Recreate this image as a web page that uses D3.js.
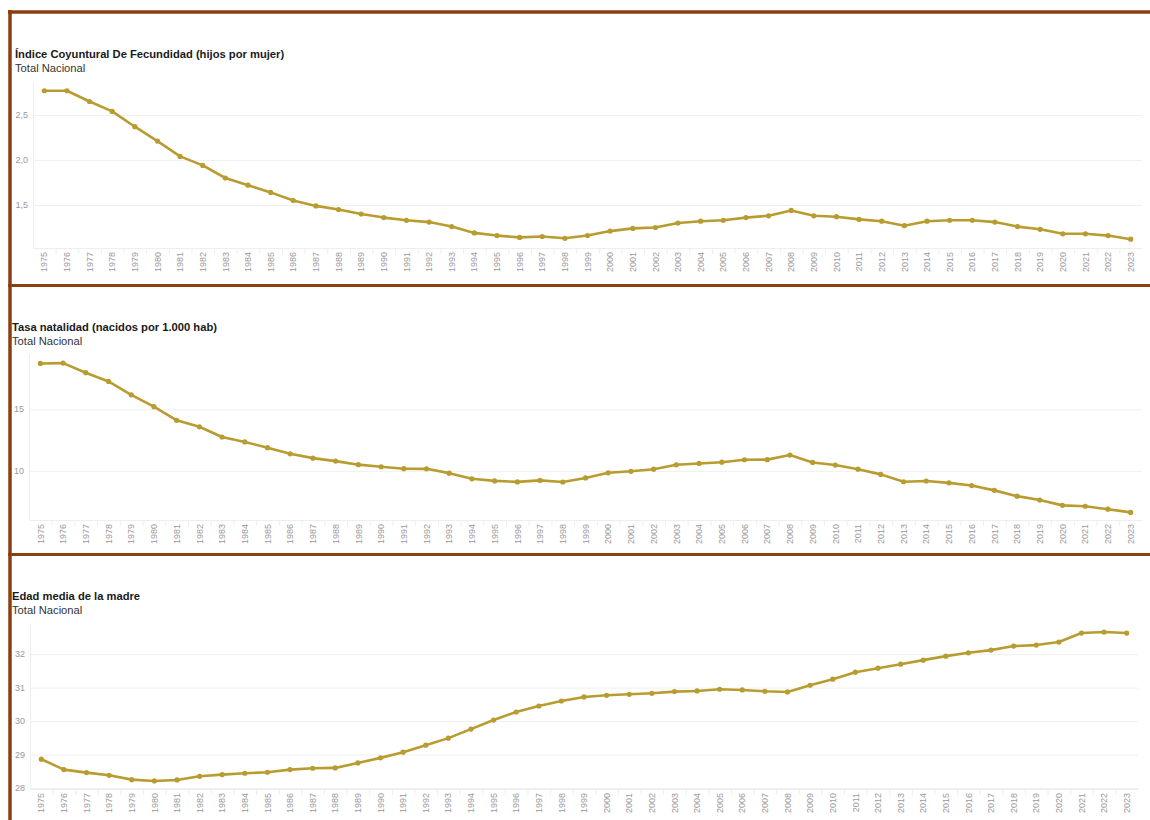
<!DOCTYPE html>
<html><head><meta charset="utf-8">
<script src="https://cdn.jsdelivr.net/npm/d3@7"></script>
<style>body{margin:0;background:#fff} svg{display:block;font-family:"Liberation Sans",Arial,sans-serif}</style>
</head><body><svg id="c" width="1150" height="820"></svg>
<script>
const years = ["1975","1976","1977","1978","1979","1980","1981","1982","1983","1984","1985","1986","1987","1988","1989","1990","1991","1992","1993","1994","1995","1996","1997","1998","1999","2000","2001","2002","2003","2004","2005","2006","2007","2008","2009","2010","2011","2012","2013","2014","2015","2016","2017","2018","2019","2020","2021","2022","2023"];
const icf = [2.77,2.77,2.65,2.54,2.37,2.21,2.04,1.94,1.80,1.72,1.64,1.55,1.49,1.45,1.40,1.36,1.33,1.31,1.26,1.19,1.16,1.14,1.15,1.13,1.16,1.21,1.24,1.25,1.30,1.32,1.33,1.36,1.38,1.44,1.38,1.37,1.34,1.32,1.27,1.32,1.33,1.33,1.31,1.26,1.23,1.18,1.18,1.16,1.12];
const natalidad = [18.73,18.76,17.98,17.27,16.18,15.22,14.11,13.58,12.75,12.35,11.88,11.38,11.03,10.79,10.50,10.33,10.17,10.16,9.81,9.35,9.18,9.10,9.22,9.09,9.42,9.84,9.96,10.13,10.49,10.60,10.70,10.90,10.91,11.28,10.68,10.47,10.13,9.71,9.11,9.17,9.02,8.80,8.41,7.94,7.62,7.19,7.12,6.88,6.62];
const edadMedia = [28.86,28.55,28.46,28.38,28.25,28.21,28.24,28.35,28.40,28.44,28.47,28.55,28.59,28.60,28.75,28.90,29.07,29.28,29.49,29.76,30.03,30.27,30.45,30.60,30.72,30.77,30.80,30.83,30.88,30.90,30.95,30.93,30.89,30.87,31.07,31.25,31.46,31.58,31.70,31.82,31.94,32.04,32.12,32.24,32.27,32.36,32.63,32.66,32.63];
const titles = ["Índice Coyuntural De Fecundidad (hijos por mujer)","Tasa natalidad (nacidos por 1.000 hab)","Edad media de la madre"];
const subtitle = "Total Nacional";
const icfTicks = [1.5, 2.0, 2.5];
const natTicks = [10, 15];
const edadTicks = [28, 29, 30, 31, 32];

const es = d3.formatLocale({decimal: ",", thousands: ".", grouping: [3], currency: ["", " €"]});
const fmt1 = es.format(".1f"), fmt0 = es.format("d");

const panels = [
  {title: titles[0], values: icf, ticks: icfTicks, domain: [1.022, 2.867], fmt: fmt1, x0: 33, x1: 1142, y0: 82, y1: 248, tx: 15, ty: 58},
  {title: titles[1], values: natalidad, ticks: natTicks, domain: [6.0, 19.5], fmt: fmt0, x0: 29, x1: 1142, y0: 354, y1: 520, tx: 12, ty: 331},
  {title: titles[2], values: edadMedia, ticks: edadTicks, domain: [27.97, 32.9], fmt: fmt0, x0: 30, x1: 1138, y0: 624, y1: 789, tx: 12, ty: 600}
];

const svg = d3.select("#c");
const lineColor = "#b89c30";

panels.forEach(p => {
  const g = svg.append("g");
  const x = d3.scaleBand().domain(years).range([p.x0, p.x1]).padding(0);
  const y = d3.scaleLinear().domain(p.domain).range([p.y1, p.y0]);

  g.append("text").attr("x", p.tx).attr("y", p.ty).attr("font-size", 11.2).attr("font-weight", "bold").attr("fill", "#1a1a1a").text(p.title);
  g.append("text").attr("x", p.tx).attr("y", p.ty + 14).attr("font-size", 11.2).attr("fill", "#333").text(subtitle);

  g.selectAll(".grid").data(p.ticks).enter().append("line")
    .attr("x1", p.x0).attr("x2", p.x1)
    .attr("y1", d => y(d) + 0.5).attr("y2", d => y(d) + 0.5)
    .attr("stroke", "#f0f0f0").attr("stroke-width", 1);
  g.append("line").attr("x1", p.x0 + 0.5).attr("x2", p.x0 + 0.5).attr("y1", p.y0).attr("y2", p.y1)
    .attr("stroke", "#eeeeee");
  g.selectAll(".yl").data(p.ticks).enter().append("text")
    .attr("x", p.x0 - 5).attr("y", d => y(d)).attr("dy", "0.35em")
    .attr("text-anchor", "end").attr("font-size", 9).attr("fill", "#999").text(d => p.fmt(d));

  const xa = d3.axisBottom(x).tickSize(0).tickPadding(4);
  const ax = g.append("g").attr("transform", `translate(0,${p.y1})`).call(xa);
  ax.select(".domain").attr("stroke", "#eeeeee");
  ax.selectAll("text").attr("font-size", 9).attr("fill", "#9a9a9a")
    .attr("font-family", "'Liberation Sans',Arial,sans-serif")
    .attr("text-anchor", "end").attr("transform", "rotate(-90)")
    .attr("x", -4).attr("y", 0).attr("dy", "0.35em");
  g.selectAll(".sep").data(years.slice(1)).enter().append("line")
    .attr("x1", d => x(d) + 0.5).attr("x2", d => x(d) + 0.5)
    .attr("y1", p.y1).attr("y2", p.y1 + 6).attr("stroke", "#eeeeee");

  const cx = d => x(d) + x.bandwidth() / 2;
  const line = d3.line().x((d, i) => cx(years[i])).y(d => y(d));
  g.append("path").datum(p.values).attr("d", line).attr("fill", "none")
    .attr("stroke", lineColor).attr("stroke-width", 2.6).attr("stroke-linejoin", "round");
  g.selectAll(".dot").data(p.values).enter().append("circle")
    .attr("cx", (d, i) => cx(years[i])).attr("cy", d => y(d)).attr("r", 2.6).attr("fill", lineColor);
});

const frame = "#8a3f10";
svg.append("line").attr("x1", 8).attr("x2", 1150).attr("y1", 12).attr("y2", 12).attr("stroke", frame).attr("stroke-width", 3.5);
svg.append("line").attr("x1", 10).attr("x2", 10).attr("y1", 10).attr("y2", 820).attr("stroke", frame).attr("stroke-width", 3.5);
svg.append("line").attr("x1", 8).attr("x2", 1150).attr("y1", 285.5).attr("y2", 285.5).attr("stroke", frame).attr("stroke-width", 3);
svg.append("line").attr("x1", 8).attr("x2", 1150).attr("y1", 554.5).attr("y2", 554.5).attr("stroke", frame).attr("stroke-width", 3);
</script></body></html>
